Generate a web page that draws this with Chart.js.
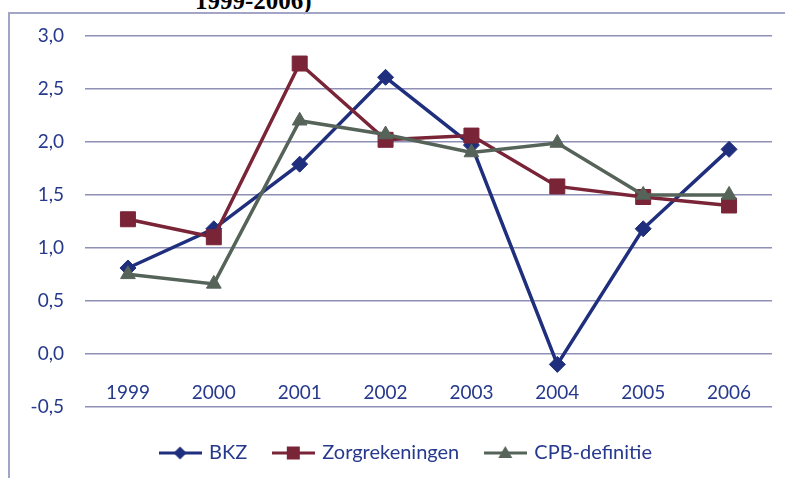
<!DOCTYPE html>
<html>
<head>
<meta charset="utf-8">
<script src="https://cdn.jsdelivr.net/npm/chart.js@4/dist/chart.umd.min.js"></script>
<style>
  html, body { margin: 0; padding: 0; background: #fff; overflow: hidden; width: 785px; height: 478px; }
  #frame { position: absolute; left: 8px; top: 12px; width: 900px; height: 600px; border: 2px solid #A3A5C6; box-sizing: border-box; }
  #title { position: absolute; left: 195px; top: -12px; font: bold 25px "Liberation Serif", serif; line-height: 25px; color: #000; white-space: nowrap; }
  #c { position: absolute; left: 0; top: 0; }
</style>
</head>
<body>
<div id="title">1999-2006)</div>
<div id="frame"></div>
<canvas id="c" width="785" height="478"></canvas>
<script>
const years = ['1999', '2000', '2001', '2002', '2003', '2004', '2005', '2006'];
const seriesNames = ['BKZ', 'Zorgrekeningen', 'CPB-definitie'];
const bkz  = [0.81, 1.18, 1.79, 2.61, 1.97, -0.10, 1.18, 1.93];
const zorg = [1.27, 1.10, 2.74, 2.02, 2.06, 1.58, 1.48, 1.40];
const cpb  = [0.75, 0.66, 2.20, 2.07, 1.90, 1.99, 1.50, 1.50];
const yMin = -0.5, yMax = 3.0, yStep = 0.5;

const colors = ['#1F2F7D', '#7A2537', '#566359'];
const styles = ['rectRot', 'rect', 'triangle'];
const textColor = '#26398C';
const gridColor = '#8E90B6';
const FONT = 'Lato';

function legendImage(color, style) {
  const cv = document.createElement('canvas');
  cv.width = 43; cv.height = 20;
  const g = cv.getContext('2d');
  g.strokeStyle = color; g.lineWidth = 3;
  g.beginPath(); g.moveTo(0, 10); g.lineTo(43, 10); g.stroke();
  g.fillStyle = color;
  g.beginPath();
  const cx = 21.5, cy = 10;
  if (style === 'rectRot') {
    g.moveTo(cx, cy - 6.5); g.lineTo(cx + 6.5, cy); g.lineTo(cx, cy + 6.5); g.lineTo(cx - 6.5, cy);
  } else if (style === 'rect') {
    g.rect(cx - 6.5, cy - 6.5, 13, 13);
  } else {
    g.moveTo(cx, cy - 7); g.lineTo(cx + 7, cy + 5); g.lineTo(cx - 7, cy + 5);
  }
  g.closePath(); g.fill();
  return cv;
}
const legendImgs = colors.map((c, i) => legendImage(c, styles[i]));

const values = [bkz, zorg, cpb];
const radii = [8, 10.6, 8.5];
const datasets = values.map((v, i) => ({
  label: seriesNames[i],
  data: v,
  borderColor: colors[i],
  backgroundColor: colors[i],
  borderWidth: 3.5,
  pointStyle: styles[i],
  pointRadius: radii[i],
  pointBorderWidth: 1,
  pointBackgroundColor: colors[i],
  pointBorderColor: colors[i],
  tension: 0,
  order: 3 - i
}));

// shift legend so it is centred like the original (wider) chart frame
const legendShift = {
  id: 'legendShift',
  afterLayout(chart) {
    const lg = chart.legend;
    if (lg) { lg.left += 8; lg.right += 8; }
  }
};

new Chart(document.getElementById('c'), {
  type: 'line',
  data: { labels: years, datasets },
  plugins: [legendShift],
  options: {
    responsive: false,
    animation: false,
    devicePixelRatio: 1,
    layout: { padding: { left: 25, right: 13, top: 36, bottom: 5 } },
    plugins: {
      tooltip: { enabled: false },
      legend: {
        position: 'bottom',
        title: { display: true, text: '', font: { size: 7.7 }, padding: 0 },
        labels: {
          usePointStyle: true,
          pointStyleWidth: 38,
          padding: 27,
          color: textColor,
          font: { family: FONT, size: 20 },
          sort: (a, b) => a.datasetIndex - b.datasetIndex,
          generateLabels: (chart) => {
            const items = Chart.defaults.plugins.legend.labels.generateLabels(chart);
            items.forEach(it => { it.pointStyle = legendImgs[it.datasetIndex]; });
            return items;
          }
        }
      }
    },
    scales: {
      x: {
        position: { y: 0 },
        offset: true,
        grid: { display: false, drawTicks: false },
        border: { display: false },
        ticks: { color: textColor, font: { family: FONT, size: 19 }, padding: 28, maxRotation: 0 }
      },
      y: {
        min: yMin, max: yMax,
        afterFit: (s) => { s.width = 60; },
        grid: { color: gridColor, lineWidth: 1.5, drawTicks: false },
        border: { display: false },
        ticks: {
          stepSize: yStep,
          padding: 21,
          color: textColor,
          font: { family: FONT, size: 19 },
          callback: (v) => Number(v).toFixed(1).replace('.', ',')
        }
      }
    }
  }
});
</script>
</body>
</html>
